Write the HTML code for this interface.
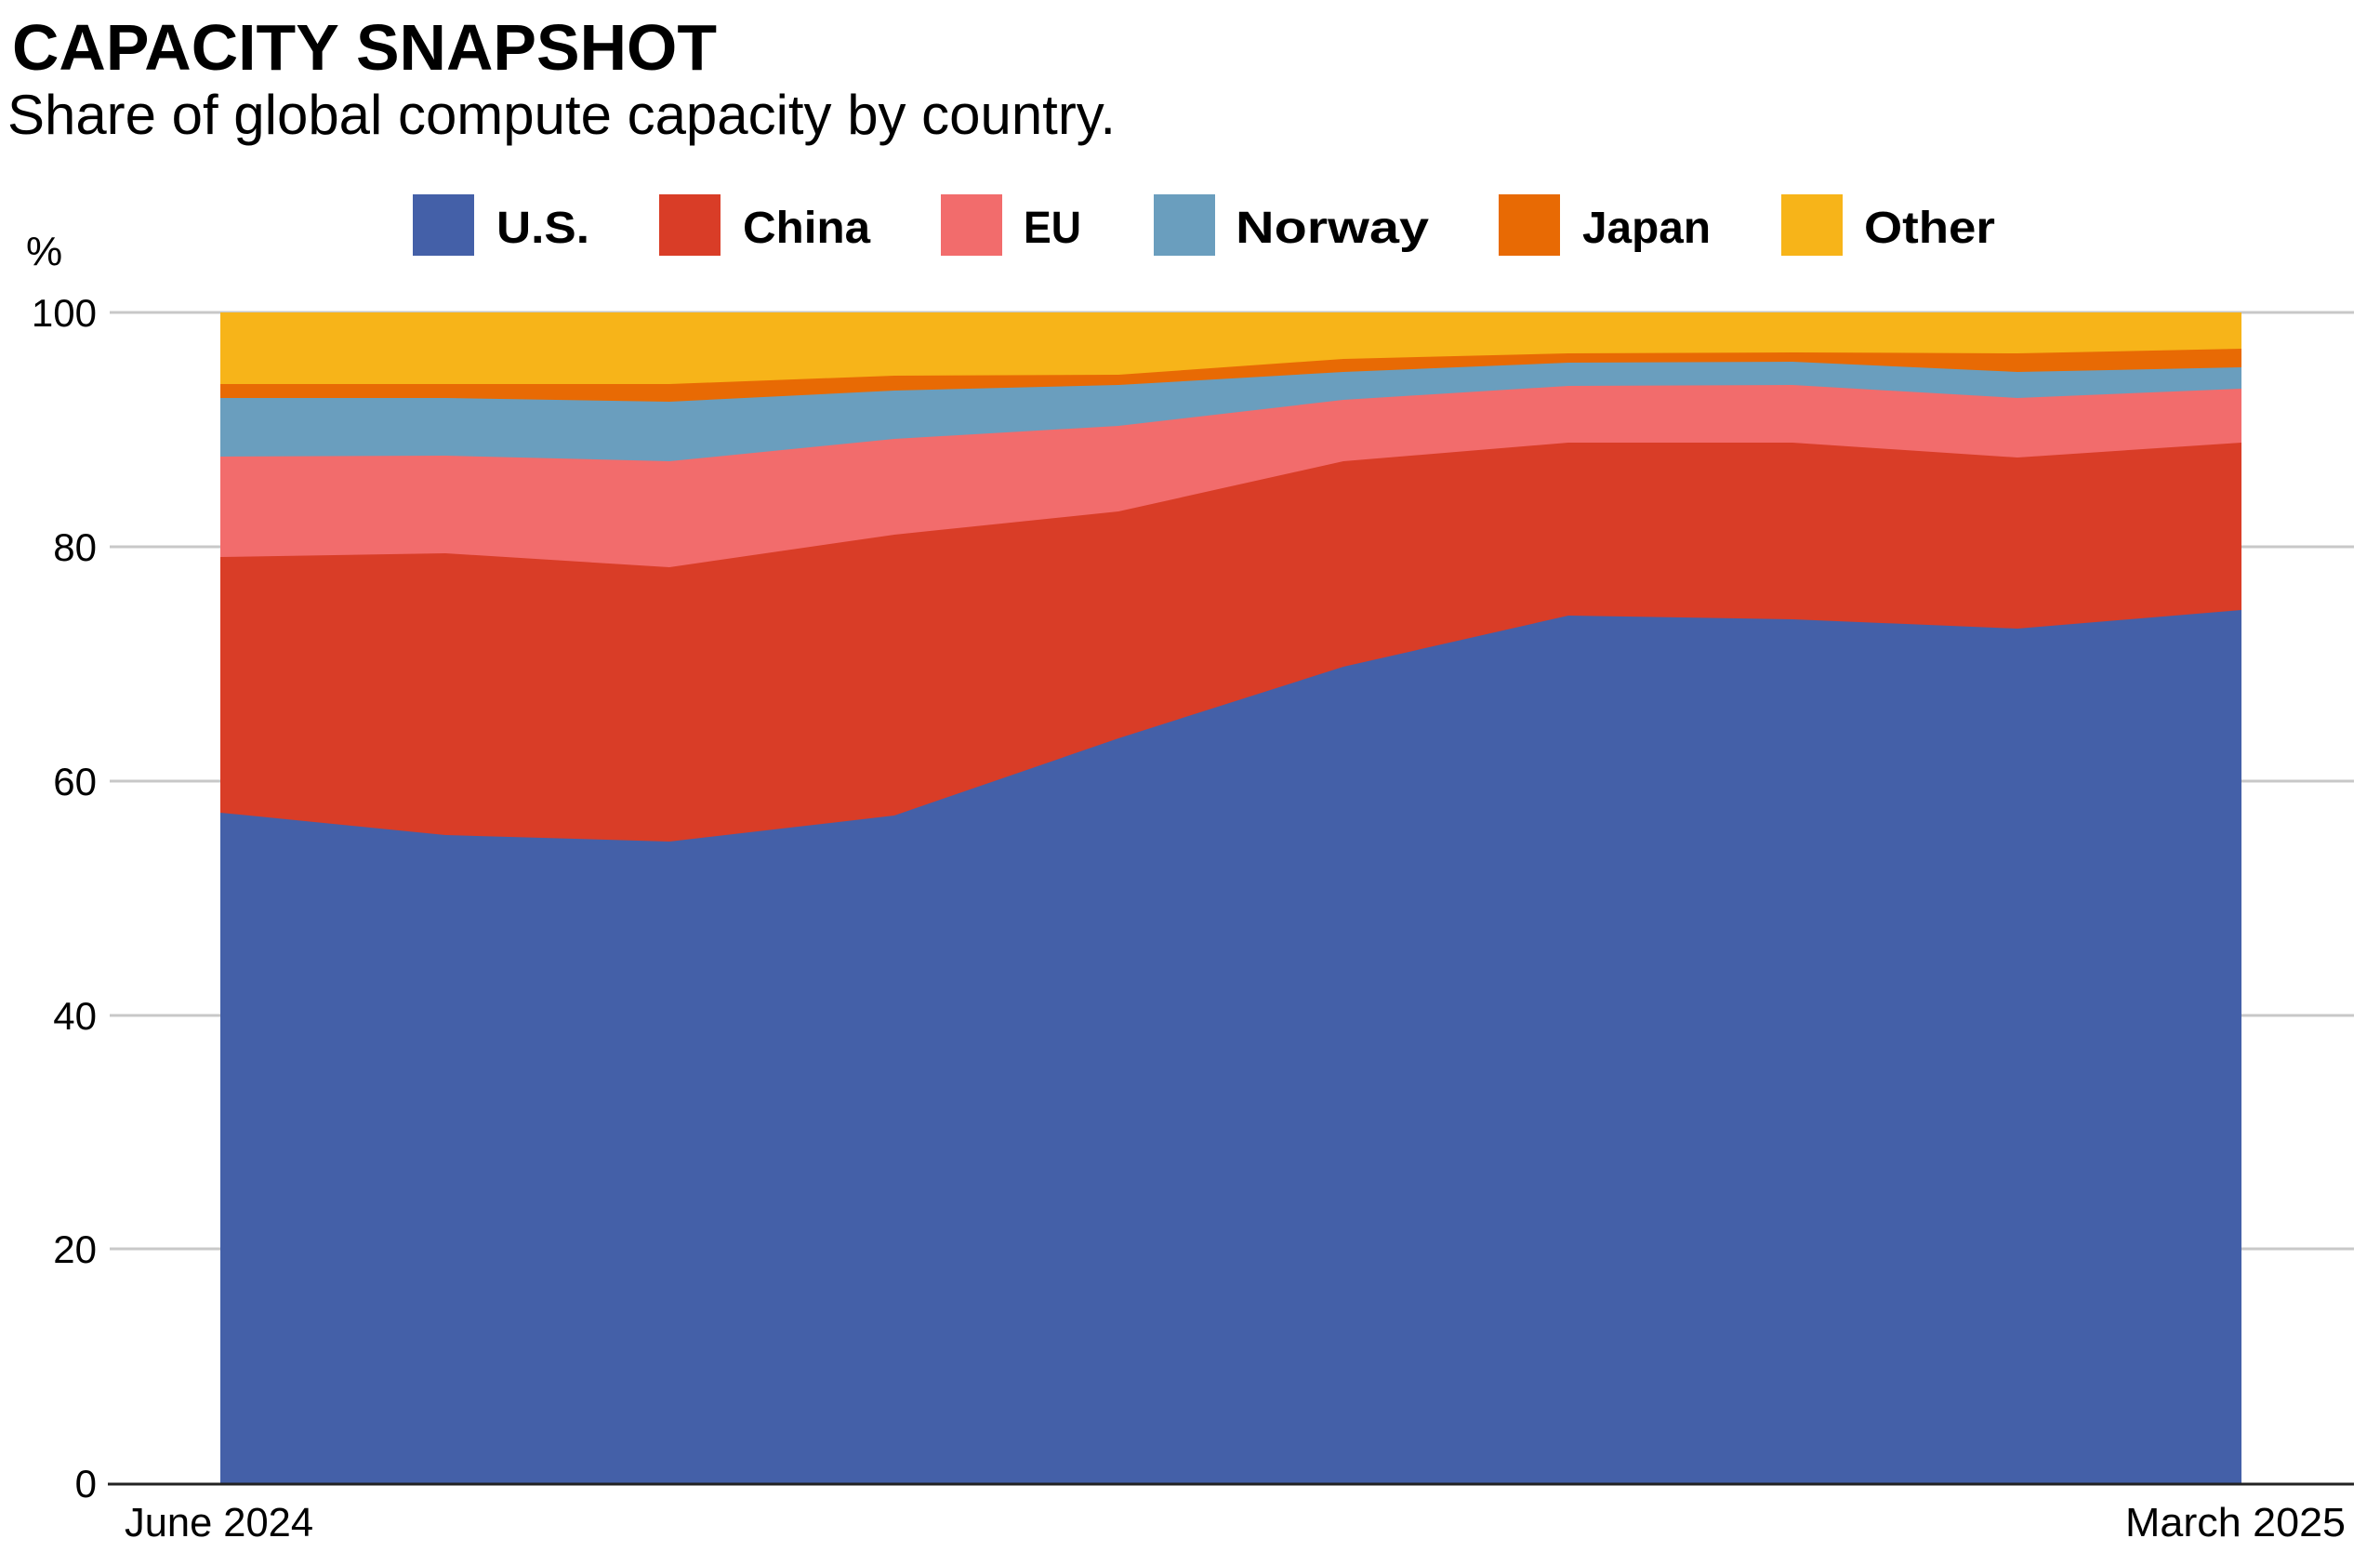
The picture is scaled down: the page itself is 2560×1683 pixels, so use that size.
<!DOCTYPE html>
<html><head><meta charset="utf-8"><style>html,body{margin:0;padding:0;background:#fff}svg{display:block}</style></head>
<body>
<svg width="2560" height="1683" viewBox="0 0 2560 1683" xmlns="http://www.w3.org/2000/svg" font-family="'Liberation Sans', sans-serif">
<rect width="2560" height="1683" fill="#fff"/>
<text x="13" y="75" font-size="70" font-weight="bold" fill="#000" textLength="758" lengthAdjust="spacingAndGlyphs">CAPACITY SNAPSHOT</text>
<text x="8" y="144" font-size="60" fill="#000" textLength="1192" lengthAdjust="spacingAndGlyphs">Share of global compute capacity by country.</text>
<g font-size="48" font-weight="bold" fill="#000">
<rect x="444" y="209" width="66" height="66" fill="#4460A8"/><text x="534" y="261" textLength="100" lengthAdjust="spacingAndGlyphs">U.S.</text>
<rect x="709" y="209" width="66" height="66" fill="#D93D27"/><text x="799" y="261" textLength="137" lengthAdjust="spacingAndGlyphs">China</text>
<rect x="1012" y="209" width="66" height="66" fill="#F26C6C"/><text x="1101" y="261" textLength="62" lengthAdjust="spacingAndGlyphs">EU</text>
<rect x="1241" y="209" width="66" height="66" fill="#6A9EBE"/><text x="1329" y="261" textLength="208" lengthAdjust="spacingAndGlyphs">Norway</text>
<rect x="1612" y="209" width="66" height="66" fill="#E86A04"/><text x="1702" y="261" textLength="138" lengthAdjust="spacingAndGlyphs">Japan</text>
<rect x="1916" y="209" width="66" height="66" fill="#F7B419"/><text x="2005" y="261" textLength="141" lengthAdjust="spacingAndGlyphs">Other</text>
</g>
<text x="28" y="285" font-size="44" fill="#000">%</text>
<g stroke="#c8c8c8" stroke-width="3">
<line x1="118" y1="336" x2="2532" y2="336"/>
<line x1="118" y1="588" x2="2532" y2="588"/>
<line x1="118" y1="840" x2="2532" y2="840"/>
<line x1="118" y1="1092" x2="2532" y2="1092"/>
<line x1="118" y1="1343" x2="2532" y2="1343"/>
</g>
<g font-size="42" fill="#000" text-anchor="end">
<text x="104" y="351">100</text>
<text x="104" y="603">80</text>
<text x="104" y="855">60</text>
<text x="104" y="1107">40</text>
<text x="104" y="1358">20</text>
<text x="104" y="1610">0</text>
</g>
<rect x="237" y="336" width="2174" height="1259" fill="#F7B419"/>
<polygon fill="#E86A04" points="237,413 479,413 720,413 962,404 1203,403 1445,386 1687,380 1928,379 2170,380 2411,375 2411,1595 237,1595"/>
<polygon fill="#6A9EBE" points="237,428 479,428 720,432 962,420 1203,414 1445,400 1687,390 1928,389 2170,400 2411,395 2411,1595 237,1595"/>
<polygon fill="#F26C6C" points="237,491 479,490 720,496 962,472 1203,458 1445,430 1687,415 1928,414 2170,428 2411,418 2411,1595 237,1595"/>
<polygon fill="#D93D27" points="237,599 479,595 720,610 962,575 1203,550 1445,496 1687,476 1928,476 2170,492 2411,476 2411,1595 237,1595"/>
<polygon fill="#4460A8" points="237,874 479,898 720,905 962,877 1203,794 1445,717 1687,662 1928,666 2170,676 2411,656 2411,1595 237,1595"/>
<line x1="116" y1="1596" x2="2532" y2="1596" stroke="#222" stroke-width="3"/>
<text x="134" y="1652" font-size="44" fill="#000" textLength="203" lengthAdjust="spacingAndGlyphs">June 2024</text>
<text x="2286" y="1652" font-size="44" fill="#000" textLength="237" lengthAdjust="spacingAndGlyphs">March 2025</text>
</svg>
</body></html>
